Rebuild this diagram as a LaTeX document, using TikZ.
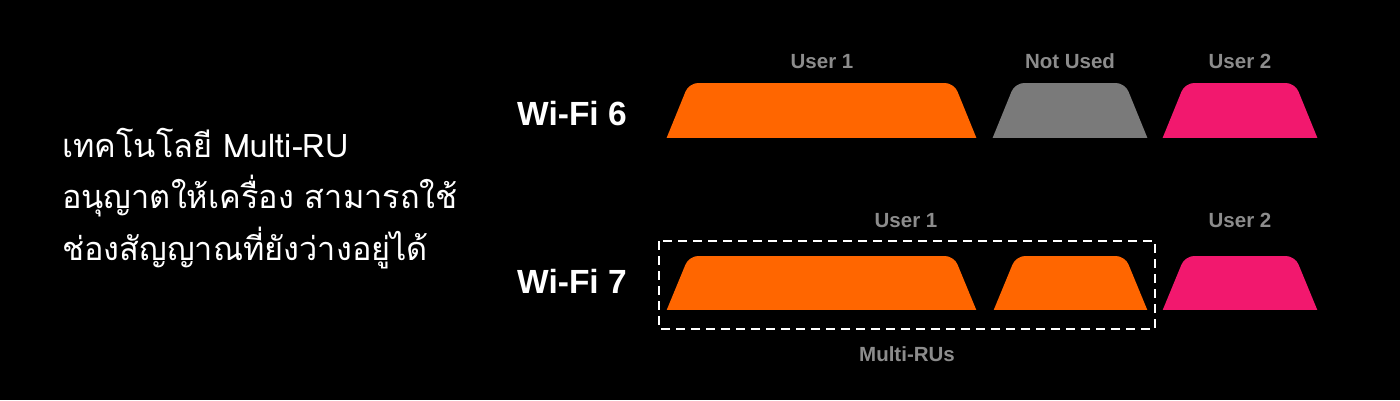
\documentclass[tikz,border=0pt]{standalone}
\usepackage{fontspec}
\setmainfont{Liberation Sans}
\newfontfamily\thaifont[Script=Thai]{Loma}
\definecolor{ruorange}{HTML}{FF6600}
\definecolor{rugray}{HTML}{7A7A7A}
\definecolor{rupink}{HTML}{F2186E}
\definecolor{lblgray}{HTML}{8C8C8C}
\newcommand{\trapz}[5]{%
  \begin{scope}
    \clip ({#1-20},{#3-10}) rectangle ({#2+20},#4);
    \fill[#5, rounded corners=9pt] ({#1-8.15},{#4+20}) -- ({#1+22},#3) -- ({#2-22},#3) -- ({#2+8.15},{#4+20}) -- cycle;
  \end{scope}}
\tikzset{
  lbl/.style={anchor=base, text=lblgray, font=\fontsize{20.5}{24}\selectfont\bfseries, inner sep=0pt},
  wifi/.style={anchor=base west, text=white, font=\fontsize{33.5}{38}\selectfont\bfseries, inner sep=0pt},
  thai/.style={anchor=base west, text=white, font=\thaifont\fontsize{32.5}{38}\selectfont, inner sep=0pt}
}
\begin{document}
\begin{tikzpicture}[x=1pt,y=-1pt]
\fill[black] (0,0) rectangle (1400,400);
\useasboundingbox (0,0) rectangle (1400,400);
% left text
\node[thai] (t1) at (62,157) {เทคโนโลยี Multi-RU};
\node[thai] (t2) at (62,208) {อนุญาตให้เครื่อง สามารถใช้};
\node[thai] (t3) at (62,260) {ช่องสัญญาณที่ยังว่างอยู่ได้};
% row labels
\node[wifi] (w6) at (517,125) {Wi-Fi 6};
\node[wifi] (w7) at (517,293) {Wi-Fi 7};
% row 1
\trapz{667}{976}{83}{137}{ruorange}
\trapz{993}{1147}{83}{137}{rugray}
\trapz{1163}{1317}{83}{137}{rupink}
\node[lbl] (u1a) at (822,68) {User 1};
\node[lbl] (nu) at (1070,68) {Not Used};
\node[lbl] (u2a) at (1240,68) {User 2};
% row 2
\trapz{667}{976}{256}{309}{ruorange}
\trapz{994}{1147}{256}{309}{ruorange}
\trapz{1163}{1317}{256}{309}{rupink}
\draw[white, line width=2pt, dash pattern=on 9pt off 6pt] (659,241) rectangle (1155,329);
\node[lbl] (u1b) at (906,227) {User 1};
\node[lbl] (u2b) at (1240,227) {User 2};
\node[lbl] (mru) at (907,361) {Multi-RUs};
\end{tikzpicture}
\end{document}
